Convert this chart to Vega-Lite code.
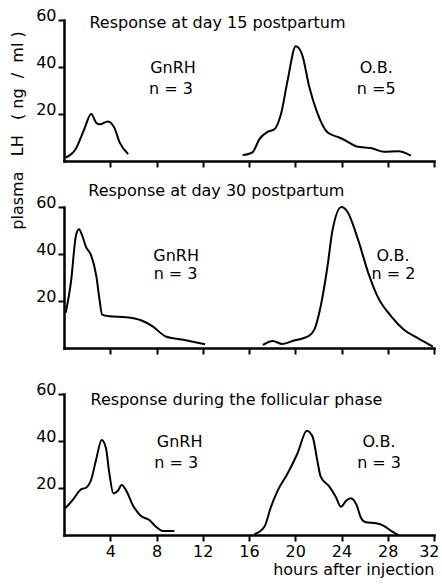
{
  "$schema": "https://vega.github.io/schema/vega-lite/v6.json",
  "background": "white",
  "padding": {"left": 8, "top": 7, "right": 4, "bottom": 4},
  "bounds": "flush",
  "spacing": 46,
  "config": {
    "view": {"stroke": null},
    "font": "DejaVu Sans",
    "axis": {
      "domainColor": "black", "domainWidth": 2.5, "domainCap": "square",
      "tickColor": "black", "tickWidth": 2, "tickSize": 6,
      "labelFont": "DejaVu Sans", "labelFontSize": 16, "labelColor": "black", "labelPadding": 2,
      "grid": false, "labelOverlap": false,
      "titleFont": "DejaVu Sans", "titleFontSize": 16, "titleFontWeight": "normal", "titleColor": "black"
    }
  },
  "datasets": {
    "curves": [
      {"panel": 1, "series": "GnRH", "h": 0.15, "v": 1.5},
      {"panel": 1, "series": "GnRH", "h": 1.0, "v": 5},
      {"panel": 1, "series": "GnRH", "h": 1.75, "v": 13.5},
      {"panel": 1, "series": "GnRH", "h": 2.35, "v": 20},
      {"panel": 1, "series": "GnRH", "h": 2.8, "v": 16.2},
      {"panel": 1, "series": "GnRH", "h": 3.1, "v": 15.6},
      {"panel": 1, "series": "GnRH", "h": 3.8, "v": 16.8},
      {"panel": 1, "series": "GnRH", "h": 4.35, "v": 14.2},
      {"panel": 1, "series": "GnRH", "h": 4.8, "v": 8},
      {"panel": 1, "series": "GnRH", "h": 5.55, "v": 3},
      {"panel": 1, "series": "OB", "h": 15.45, "v": 2.5},
      {"panel": 1, "series": "OB", "h": 16.3, "v": 3.7},
      {"panel": 1, "series": "OB", "h": 16.9, "v": 9.3},
      {"panel": 1, "series": "OB", "h": 17.6, "v": 12.4},
      {"panel": 1, "series": "OB", "h": 18.2, "v": 13.5},
      {"panel": 1, "series": "OB", "h": 18.8, "v": 20.6},
      {"panel": 1, "series": "OB", "h": 19.35, "v": 34.6},
      {"panel": 1, "series": "OB", "h": 20.05, "v": 48.8},
      {"panel": 1, "series": "OB", "h": 20.6, "v": 45.2},
      {"panel": 1, "series": "OB", "h": 21.2, "v": 31.8},
      {"panel": 1, "series": "OB", "h": 21.9, "v": 20.6},
      {"panel": 1, "series": "OB", "h": 22.8, "v": 12.1},
      {"panel": 1, "series": "OB", "h": 23.8, "v": 10},
      {"panel": 1, "series": "OB", "h": 24.4, "v": 8.6},
      {"panel": 1, "series": "OB", "h": 25.3, "v": 6.2},
      {"panel": 1, "series": "OB", "h": 26.6, "v": 5.4},
      {"panel": 1, "series": "OB", "h": 27.7, "v": 3.9},
      {"panel": 1, "series": "OB", "h": 28.9, "v": 4.1},
      {"panel": 1, "series": "OB", "h": 30.0, "v": 2.3},
      {"panel": 2, "series": "GnRH", "h": 0.15, "v": 15},
      {"panel": 2, "series": "GnRH", "h": 0.6, "v": 28},
      {"panel": 2, "series": "GnRH", "h": 1.04, "v": 48},
      {"panel": 2, "series": "GnRH", "h": 1.3, "v": 50.5},
      {"panel": 2, "series": "GnRH", "h": 1.56, "v": 48},
      {"panel": 2, "series": "GnRH", "h": 1.9, "v": 43},
      {"panel": 2, "series": "GnRH", "h": 2.34, "v": 39.5},
      {"panel": 2, "series": "GnRH", "h": 2.8, "v": 30.5},
      {"panel": 2, "series": "GnRH", "h": 3.06, "v": 21},
      {"panel": 2, "series": "GnRH", "h": 3.3, "v": 14.2},
      {"panel": 2, "series": "GnRH", "h": 3.92, "v": 13.5},
      {"panel": 2, "series": "GnRH", "h": 5.36, "v": 13.1},
      {"panel": 2, "series": "GnRH", "h": 6.66, "v": 11.8},
      {"panel": 2, "series": "GnRH", "h": 7.67, "v": 9.2},
      {"panel": 2, "series": "GnRH", "h": 8.8, "v": 4.9},
      {"panel": 2, "series": "GnRH", "h": 10.2, "v": 3.6},
      {"panel": 2, "series": "GnRH", "h": 12.2, "v": 1.6},
      {"panel": 2, "series": "OB", "h": 17.2, "v": 1.3},
      {"panel": 2, "series": "OB", "h": 18.05, "v": 3},
      {"panel": 2, "series": "OB", "h": 18.9, "v": 1.7},
      {"panel": 2, "series": "OB", "h": 19.9, "v": 3.2},
      {"panel": 2, "series": "OB", "h": 21.1, "v": 4.9},
      {"panel": 2, "series": "OB", "h": 21.65, "v": 7.8},
      {"panel": 2, "series": "OB", "h": 22.2, "v": 17.8},
      {"panel": 2, "series": "OB", "h": 22.8, "v": 35.1},
      {"panel": 2, "series": "OB", "h": 23.2, "v": 49.5},
      {"panel": 2, "series": "OB", "h": 24.0, "v": 60},
      {"panel": 2, "series": "OB", "h": 24.5, "v": 58.1},
      {"panel": 2, "series": "OB", "h": 25.4, "v": 46.6},
      {"panel": 2, "series": "OB", "h": 26.3, "v": 32.2},
      {"panel": 2, "series": "OB", "h": 27.1, "v": 22.1},
      {"panel": 2, "series": "OB", "h": 28.3, "v": 13.5},
      {"panel": 2, "series": "OB", "h": 29.4, "v": 7.8},
      {"panel": 2, "series": "OB", "h": 30.6, "v": 4.2},
      {"panel": 2, "series": "OB", "h": 31.9, "v": 0.6},
      {"panel": 3, "series": "GnRH", "h": 0.1, "v": 11.3},
      {"panel": 3, "series": "GnRH", "h": 0.75, "v": 14.9},
      {"panel": 3, "series": "GnRH", "h": 1.47, "v": 19.4},
      {"panel": 3, "series": "GnRH", "h": 1.9, "v": 20.1},
      {"panel": 3, "series": "GnRH", "h": 2.34, "v": 23.4},
      {"panel": 3, "series": "GnRH", "h": 2.77, "v": 31.9},
      {"panel": 3, "series": "GnRH", "h": 3.26, "v": 40.4},
      {"panel": 3, "series": "GnRH", "h": 3.63, "v": 36.9},
      {"panel": 3, "series": "GnRH", "h": 3.92, "v": 26.3},
      {"panel": 3, "series": "GnRH", "h": 4.27, "v": 17.7},
      {"panel": 3, "series": "GnRH", "h": 4.64, "v": 18.7},
      {"panel": 3, "series": "GnRH", "h": 4.99, "v": 21.3},
      {"panel": 3, "series": "GnRH", "h": 5.36, "v": 19.1},
      {"panel": 3, "series": "GnRH", "h": 5.94, "v": 12.8},
      {"panel": 3, "series": "GnRH", "h": 6.66, "v": 8.1},
      {"panel": 3, "series": "GnRH", "h": 7.38, "v": 6.4},
      {"panel": 3, "series": "GnRH", "h": 7.96, "v": 3.5},
      {"panel": 3, "series": "GnRH", "h": 8.54, "v": 1.7},
      {"panel": 3, "series": "GnRH", "h": 9.54, "v": 1.7},
      {"panel": 3, "series": "OB", "h": 16.46, "v": 0.3},
      {"panel": 3, "series": "OB", "h": 17.33, "v": 3.5},
      {"panel": 3, "series": "OB", "h": 17.9, "v": 12},
      {"panel": 3, "series": "OB", "h": 18.5, "v": 19.1},
      {"panel": 3, "series": "OB", "h": 19.35, "v": 26.3},
      {"panel": 3, "series": "OB", "h": 20.2, "v": 34.8},
      {"panel": 3, "series": "OB", "h": 21.0, "v": 44.4},
      {"panel": 3, "series": "OB", "h": 21.5, "v": 41.8},
      {"panel": 3, "series": "OB", "h": 21.9, "v": 31.9},
      {"panel": 3, "series": "OB", "h": 22.2, "v": 24.8},
      {"panel": 3, "series": "OB", "h": 22.95, "v": 20.6},
      {"panel": 3, "series": "OB", "h": 23.5, "v": 16.3},
      {"panel": 3, "series": "OB", "h": 23.96, "v": 12},
      {"panel": 3, "series": "OB", "h": 24.4, "v": 14.6},
      {"panel": 3, "series": "OB", "h": 24.8, "v": 15.6},
      {"panel": 3, "series": "OB", "h": 25.3, "v": 12.8},
      {"panel": 3, "series": "OB", "h": 25.7, "v": 7.1},
      {"panel": 3, "series": "OB", "h": 26.1, "v": 5.4},
      {"panel": 3, "series": "OB", "h": 27.0, "v": 5},
      {"panel": 3, "series": "OB", "h": 27.7, "v": 3.8},
      {"panel": 3, "series": "OB", "h": 28.4, "v": 1.4},
      {"panel": 3, "series": "OB", "h": 28.9, "v": 0}
    ],
    "titles": [
      {"panel": 1, "h": 2.2, "v": 56.5, "text": "Response at day 15 postpartum"},
      {"panel": 2, "h": 2.1, "v": 64.5, "text": "Response at day 30 postpartum"},
      {"panel": 3, "h": 2.3, "v": 55.3, "text": "Response during the follicular phase"}
    ],
    "labels": [
      {"panel": 1, "h": 9.43, "v": 37.6, "text": "GnRH"},
      {"panel": 1, "h": 9.26, "v": 28.3, "text": "n = 3"},
      {"panel": 1, "h": 27.0, "v": 37.6, "text": "O.B."},
      {"panel": 1, "h": 27.0, "v": 28.3, "text": "n =5"},
      {"panel": 2, "h": 9.7, "v": 37.1, "text": "GnRH"},
      {"panel": 2, "h": 9.65, "v": 29.3, "text": "n = 3"},
      {"panel": 2, "h": 28.46, "v": 37.1, "text": "O.B."},
      {"panel": 2, "h": 28.5, "v": 29.3, "text": "n = 2"},
      {"panel": 3, "h": 10.0, "v": 37.4, "text": "GnRH"},
      {"panel": 3, "h": 9.7, "v": 28.5, "text": "n = 3"},
      {"panel": 3, "h": 27.25, "v": 37.4, "text": "O.B."},
      {"panel": 3, "h": 27.25, "v": 28.5, "text": "n = 3"}
    ]
  },
  "vconcat": [
    {
      "width": 370, "height": 141,
      "layer": [
        {
          "data": {"name": "curves"},
          "transform": [{"filter": "datum.panel == 1"}],
          "mark": {"type": "line", "interpolate": "monotone", "color": "black", "strokeWidth": 2},
          "encoding": {
            "x": {"field": "h", "type": "quantitative", "scale": {"domain": [0, 32], "nice": false},
              "axis": {"values": [4, 8, 12, 16, 20, 24, 28, 32], "labels": false, "title": null}},
            "y": {"field": "v", "type": "quantitative", "scale": {"domain": [0, 60], "nice": false},
              "axis": {"values": [20, 40, 60], "labelBaseline": "alphabetic",
                "title": "plasma\u00a0\u00a0\u00a0LH\u00a0\u00a0\u00a0(\u00a0ng\u00a0\u00a0/\u00a0\u00a0ml\u00a0)",
                "titleX": -47, "titleY": 110, "titleAngle": 270, "titleAlign": "center", "titleBaseline": "middle"}},
            "detail": {"field": "series"}
          }
        },
        {
          "data": {"name": "titles"},
          "transform": [{"filter": "datum.panel == 1"}],
          "mark": {"type": "text", "align": "left", "baseline": "alphabetic", "fontSize": 16, "font": "DejaVu Sans", "color": "black"},
          "encoding": {"x": {"field": "h", "type": "quantitative"}, "y": {"field": "v", "type": "quantitative"}, "text": {"field": "text"}}
        },
        {
          "data": {"name": "labels"},
          "transform": [{"filter": "datum.panel == 1"}],
          "mark": {"type": "text", "align": "center", "baseline": "alphabetic", "fontSize": 16, "font": "DejaVu Sans", "color": "black"},
          "encoding": {"x": {"field": "h", "type": "quantitative"}, "y": {"field": "v", "type": "quantitative"}, "text": {"field": "text"}}
        }
      ]
    },
    {
      "width": 370, "height": 141,
      "layer": [
        {
          "data": {"name": "curves"},
          "transform": [{"filter": "datum.panel == 2"}],
          "mark": {"type": "line", "interpolate": "monotone", "color": "black", "strokeWidth": 2},
          "encoding": {
            "x": {"field": "h", "type": "quantitative", "scale": {"domain": [0, 32], "nice": false},
              "axis": {"values": [4, 8, 12, 16, 20, 24, 28, 32], "labels": false, "title": null}},
            "y": {"field": "v", "type": "quantitative", "scale": {"domain": [0, 60], "nice": false},
              "axis": {"values": [20, 40, 60], "labelBaseline": "alphabetic", "title": null}},
            "detail": {"field": "series"}
          }
        },
        {
          "data": {"name": "titles"},
          "transform": [{"filter": "datum.panel == 2"}],
          "mark": {"type": "text", "align": "left", "baseline": "alphabetic", "fontSize": 16, "font": "DejaVu Sans", "color": "black"},
          "encoding": {"x": {"field": "h", "type": "quantitative"}, "y": {"field": "v", "type": "quantitative"}, "text": {"field": "text"}}
        },
        {
          "data": {"name": "labels"},
          "transform": [{"filter": "datum.panel == 2"}],
          "mark": {"type": "text", "align": "center", "baseline": "alphabetic", "fontSize": 16, "font": "DejaVu Sans", "color": "black"},
          "encoding": {"x": {"field": "h", "type": "quantitative"}, "y": {"field": "v", "type": "quantitative"}, "text": {"field": "text"}}
        }
      ]
    },
    {
      "width": 370, "height": 141,
      "layer": [
        {
          "data": {"name": "curves"},
          "transform": [{"filter": "datum.panel == 3"}],
          "mark": {"type": "line", "interpolate": "monotone", "color": "black", "strokeWidth": 2},
          "encoding": {
            "x": {"field": "h", "type": "quantitative", "scale": {"domain": [0, 32], "nice": false},
              "axis": {"values": [4, 8, 12, 16, 20, 24, 28, 32], "labelFlush": true, "labelFlushOffset": 5,
                "title": "hours after injection", "titleAnchor": "end", "titlePadding": 2}},
            "y": {"field": "v", "type": "quantitative", "scale": {"domain": [0, 60], "nice": false},
              "axis": {"values": [20, 40, 60], "labelBaseline": "alphabetic", "title": null}},
            "detail": {"field": "series"}
          }
        },
        {
          "data": {"name": "titles"},
          "transform": [{"filter": "datum.panel == 3"}],
          "mark": {"type": "text", "align": "left", "baseline": "alphabetic", "fontSize": 16, "font": "DejaVu Sans", "color": "black"},
          "encoding": {"x": {"field": "h", "type": "quantitative"}, "y": {"field": "v", "type": "quantitative"}, "text": {"field": "text"}}
        },
        {
          "data": {"name": "labels"},
          "transform": [{"filter": "datum.panel == 3"}],
          "mark": {"type": "text", "align": "center", "baseline": "alphabetic", "fontSize": 16, "font": "DejaVu Sans", "color": "black"},
          "encoding": {"x": {"field": "h", "type": "quantitative"}, "y": {"field": "v", "type": "quantitative"}, "text": {"field": "text"}}
        }
      ]
    }
  ]
}
